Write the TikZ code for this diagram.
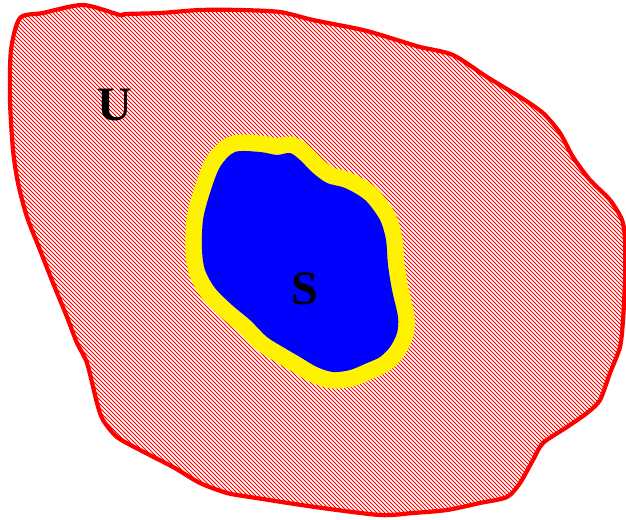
\documentclass[tikz,border=0pt]{standalone}
\usepackage{fontspec}
\setmainfont{Liberation Serif}
\begin{document}
\begin{tikzpicture}[x=1pt,y=-1pt,
  outerline/.style={draw=red,line width=4.2pt,line join=round},
  hatch/.style={red,line width=1.0pt},
  band/.style={draw=yellow,line width=33pt,line join=round},
  core/.style={fill=blue},
  lbl/.style={font=\fontsize{48}{48}\selectfont\bfseries,text=black,inner sep=0pt}]
\useasboundingbox (0,0) rectangle (626,519);
\def\outerpath{plot[smooth cycle,tension=0.45] coordinates {
 (20,18) (43,13) (83,5) (120,15) (125,14) (160,13) (200,10) (240,10) (280,12)
 (313,20) (363,30) (397,40) (420,47) (453,55) (487,77) (520,97) (543,113)
 (560,133) (573,157) (590,180) (610,200) (622,220) (625,240) (625,280)
 (623,320) (620,347) (610,373) (600,400) (587,413) (567,427) (543,443)
 (533,460) (520,483) (507,497) (480,503) (447,510) (413,513) (380,515)
 (315,507) (250,497) (227,493) (200,483) (173,467) (140,450) (117,437)
 (103,420) (97,403) (87,363) (77,343) (67,317) (53,283) (40,250) (27,217)
 (18,183) (13,150) (10,100) (11,50)}}
\def\innerpath{plot[smooth cycle,tension=0.5] coordinates {
 (235,152) (260,152) (277,155) (290,153) (300,160) (313,173) (327,183)
 (345,188) (365,200) (380,220) (386,240) (388,265) (392,290) (398,317)
 (397,333) (390,347) (380,357) (367,363) (350,370) (333,372) (317,367)
 (300,357) (283,347) (267,337) (250,320) (232,305) (215,288) (205,270)
 (202,250) (203,220) (210,193) (220,167)}}
\begin{scope}
  \clip \outerpath;
  \foreach \c in {-520,-516,...,628} {
    \draw[hatch] (\c,-4) -- (\c+527,523);
  }
\end{scope}
\draw[band] \innerpath;
\fill[core] \innerpath;
\draw[outerline] \outerpath;
\node[lbl] (U) at (115,105) {U};
\node[lbl] (S) at (305,289) {S};
\end{tikzpicture}
\end{document}
